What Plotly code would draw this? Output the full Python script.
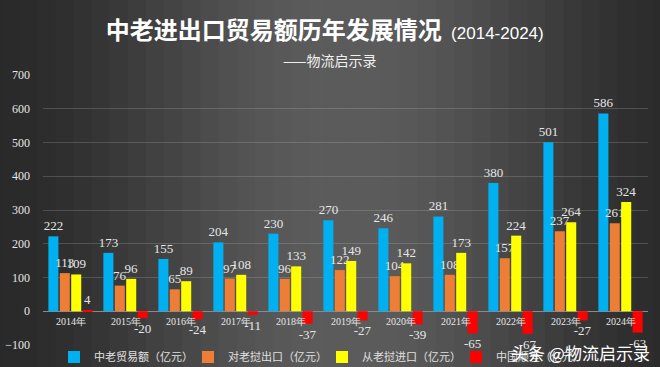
import plotly.graph_objects as go
import math

years = ["2014年", "2015年", "2016年", "2017年", "2018年", "2019年", "2020年", "2021年", "2022年", "2023年", "2024年"]
trade = [222, 173, 155, 204, 230, 270, 246, 281, 380, 501, 586]
exports = [113, 76, 65, 97, 96, 122, 104, 108, 157, 237, 261]
imports = [109, 96, 89, 108, 133, 149, 142, 173, 224, 264, 324]
surplus = [4, -20, -24, -11, -37, -27, -39, -65, -67, -27, -63]

series = [
    ("中老贸易额（亿元）", trade, "#00B0F0"),
    ("对老挝出口（亿元）", exports, "#EC7E38"),
    ("从老挝进口（亿元）", imports, "#FFFF00"),
    ("中国顺差（亿元）", surplus, "#FF0000"),
]

fig = go.Figure()
for name, vals, col in series:
    fig.add_trace(go.Bar(
        x=years, y=vals, name=name,
        marker=dict(color=col, line=dict(width=0)),
        text=[str(v) for v in vals], textposition="outside",
        textfont=dict(family="Liberation Serif", size=13, color="#e6e6e6"),
        constraintext="none", cliponaxis=False,
    ))

# background gradient strips (styling only)
shapes = []
n = 40
for i in range(n):
    t = (i + 0.5) / n
    v = 0.5 - 0.5 * math.cos(2 * math.pi * t)
    g = int(42 + (92 - 42) * v)
    shapes.append(dict(type="rect", xref="paper", yref="paper", layer="below",
                       x0=-0.1 + 1.2 * i / n, x1=-0.1 + 1.2 * (i + 1) / n + 0.003, y0=-1, y1=2,
                       fillcolor=f"rgb({g},{g},{g})", line=dict(width=0)))

W, H = 660, 367
ml, mr, mt, mb = 43, 12, 75, 22
PW, PH = W - ml - mr, H - mt - mb


def px_x(x):
    return (x - ml) / PW


def px_y(y):
    return (H - mb - y) / PH


annotations = []
for y in years:
    annotations.append(dict(x=y, y=0, xref="x", yref="y", text=y, showarrow=False,
                            yanchor="top", yshift=-3,
                            font=dict(family="Liberation Serif", size=10, color="#e6e6e6")))

annotations.append(dict(xref="paper", yref="paper", x=px_x(329), y=px_y(60),
                        xanchor="center", yanchor="middle",
                        text="——物流启示录", showarrow=False,
                        font=dict(family="Noto Sans CJK SC", size=14, color="#f0f0f0")))
annotations.append(dict(xref="paper", yref="paper", x=px_x(580), y=px_y(352),
                        xanchor="center", yanchor="middle",
                        text="头条 @物流启示录", showarrow=False,
                        font=dict(family="Noto Sans CJK SC", size=17, color="#ffffff")))

fig.update_layout(
    width=W, height=H,
    margin=dict(l=ml, r=mr, t=mt, b=mb, autoexpand=False),
    paper_bgcolor="#454545", plot_bgcolor="rgba(0,0,0,0)",
    shapes=shapes, annotations=annotations,
    barmode="group", bargap=0.17, bargroupgap=0.12,
    title=dict(text="<b>中老进出口贸易额历年发展情况</b><span style='font-size:17px;font-weight:normal;font-family:Liberation Sans'>  (2014-2024)</span>",
               x=0.492, xanchor="center", y=1 - 31 / H, yanchor="middle",
               font=dict(family="Noto Sans CJK SC", size=24, color="#ffffff")),
    xaxis=dict(showticklabels=False, showgrid=False, zeroline=False, showline=False),
    yaxis=dict(range=[-100, 700], dtick=100, showgrid=True, gridcolor="rgba(200,200,200,0.22)",
               gridwidth=1, zeroline=True, zerolinecolor="#8a8a8a", zerolinewidth=1,
               tickfont=dict(family="Liberation Serif", size=12, color="#e6e6e6"),
               ticklabelstandoff=12),
    legend=dict(orientation="h", x=px_x(54), xanchor="left", y=px_y(357),
                yanchor="middle", font=dict(family="Noto Sans CJK SC", size=11, color="#e0e0e0"),
                bgcolor="rgba(0,0,0,0)", itemwidth=30, tracegroupgap=0, entrywidth=89),
    showlegend=True,
)

fig.write_html("out.html", config={"displayModeBar": False},
               post_script="document.body.style.margin='0';document.body.style.overflow='hidden';")
